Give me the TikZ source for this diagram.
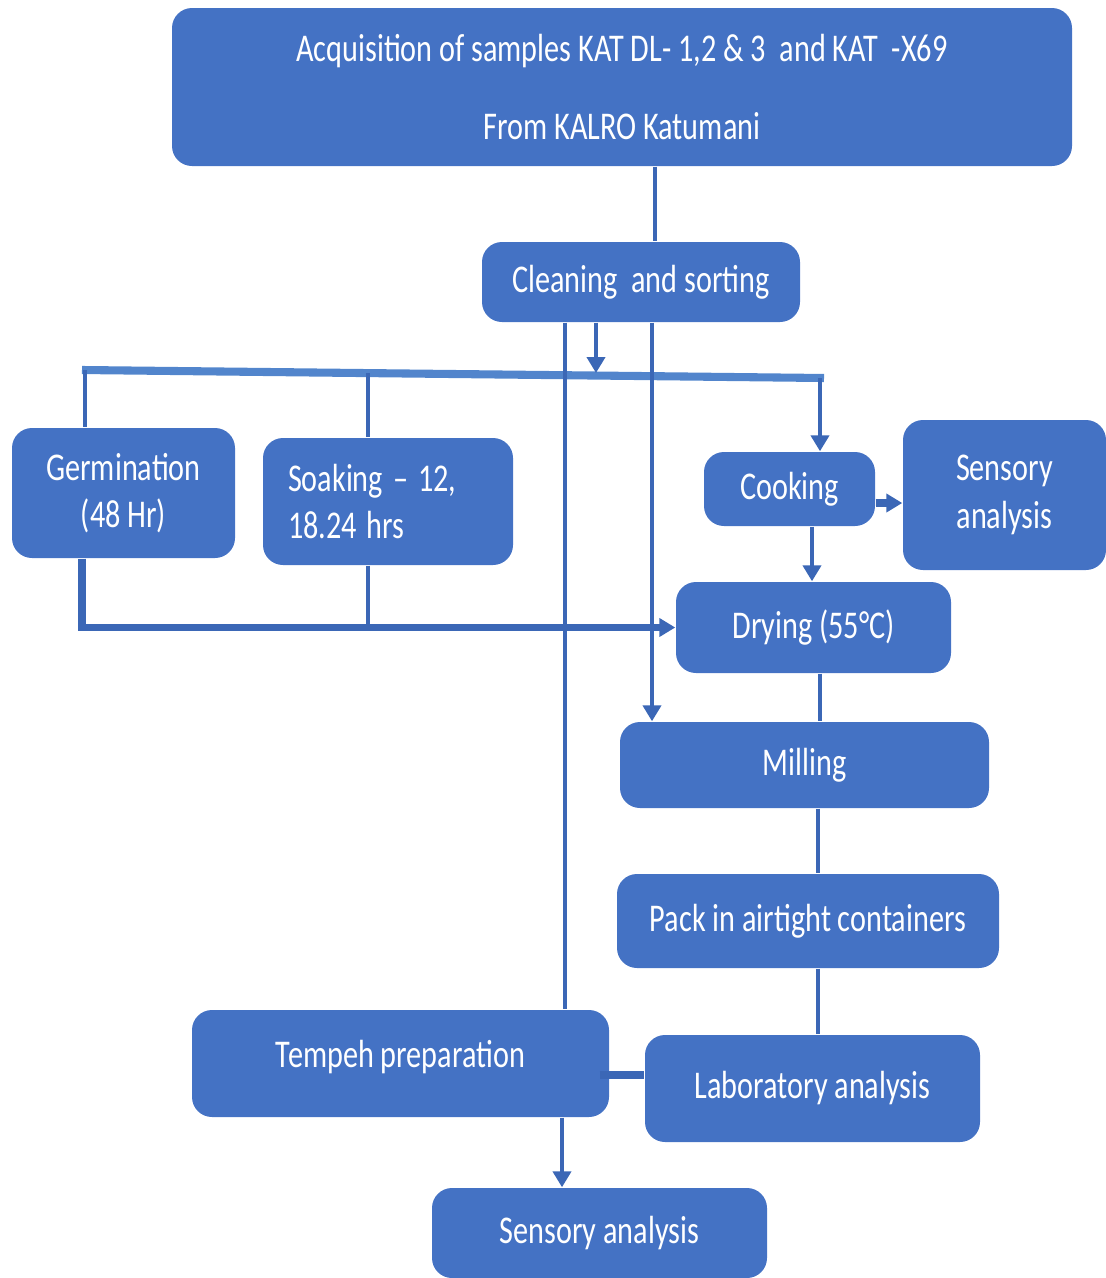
\documentclass[tikz,border=0pt]{standalone}
\usepackage{fontspec}
\setmainfont{Carlito}
\usetikzlibrary{positioning,arrows.meta,calc}
\definecolor{boxblue}{HTML}{4472C4}
\definecolor{lineblue}{HTML}{3B67B6}
\definecolor{busblue}{HTML}{5285CC}
\newcommand{\tl}[1]{\scalebox{1}[1.3]{#1}}
\tikzset{
  stage/.style={fill=boxblue,rounded corners=2mm,text=white,align=center,
    font=\fontsize{8.6}{10.5}\selectfont,inner sep=0pt},
  link/.style={draw=lineblue,line width=1.3pt},
  flow/.style={link,-{Triangle[length=1.6mm,width=1.8mm]}}
}
\begin{document}
\begin{tikzpicture}
  \useasboundingbox (0,0) rectangle (11.06,-12.78);
  \node[stage,minimum width=9cm,minimum height=1.58cm] (acq) at (6.22,-0.87)
    {\tl{Acquisition of samples KAT DL- 1,2 \& 3\ \ and KAT\ \ -X69}\\[11.5pt]\tl{From KALRO Katumani}};
  \node[stage,minimum width=3.18cm,minimum height=0.8cm] (clean) at (6.41,-2.82){\tl{Cleaning\ \ and sorting}};
  \node[stage,minimum width=2.23cm,minimum height=1.3cm] (germ) at (1.235,-4.93){\tl{Germination}\\[3pt]\tl{(48 Hr)}};
  \node[stage,minimum width=2.5cm,minimum height=1.27cm,align=left,text width=2.0cm] (soak) at (3.88,-5.015)
    {\tl{Soaking – 12,}\\[3pt]\tl{18.24 hrs}};
  \node[stage,minimum width=1.71cm,minimum height=0.74cm] (cook) at (7.895,-4.89){\raisebox{-0.6mm}{\tl{Cooking}}};
  \node[stage,minimum width=2.03cm,minimum height=1.5cm] (sens1) at (10.045,-4.95){\tl{Sensory}\\[3pt]\tl{analysis}};
  \node[stage,minimum width=2.75cm,minimum height=0.91cm] (dry) at (8.135,-6.275){\tl{Drying (55°C)}};
  \node[stage,minimum width=3.69cm,minimum height=0.86cm] (mill) at (8.045,-7.65){\tl{Milling}};
  \node[stage,minimum width=3.82cm,minimum height=0.94cm] (pack) at (8.08,-9.21){\tl{Pack in airtight containers}};
  \node[stage,minimum width=4.17cm,minimum height=1.07cm] (temp) at (4.005,-10.635){\raisebox{2mm}{\tl{Tempeh preparation}}};
  \node[stage,minimum width=3.35cm,minimum height=1.07cm] (lab) at (8.125,-10.885){\raisebox{0.6mm}{\tl{Laboratory analysis}}};
  \node[stage,minimum width=3.35cm,minimum height=0.9cm] (sens2) at (5.995,-12.33){\tl{Sensory analysis}};
  % split bar under cleaning
  \coordinate (busL) at (0.82,-3.70);
  \coordinate (busR) at (8.24,-3.78);
  \draw[busblue,line width=2.3pt] (busL) -- (busR);
  \draw[link] (6.55,0 |- acq.south) -- (6.55,0 |- clean.north);
  \draw[flow] (5.96,0 |- clean.south) -- (5.96,-3.73);
  \draw[link] (0.85,-3.70) -- (0.85,0 |- germ.north);
  \draw[link] (3.68,-3.73) -- (3.68,0 |- soak.north);
  \draw[flow] (8.20,-3.78) -- (8.20,0 |- cook.north);
  \draw[link] (5.65,0 |- clean.south) -- (5.65,0 |- temp.north);
  \draw[flow] (6.52,0 |- clean.south) -- (6.52,0 |- mill.north);
  \draw[flow] (8.12,0 |- cook.south) -- (8.12,0 |- dry.north);
  \draw[flow,line width=2pt] ([yshift=-1.4mm]cook.east) -- ([yshift=-1.4mm]cook.east -| sens1.west);
  % soaked and germinated to drying
  \draw[flow,line width=2.2pt] (0.82,0 |- germ.south) |- (dry.west);
  \draw[link] (3.68,0 |- soak.south) -- (3.68,0 |- dry.west);
  \draw[link] (8.20,0 |- dry.south) -- (8.20,0 |- mill.north);
  \draw[link] (8.18,0 |- mill.south) -- (8.18,0 |- pack.north);
  \draw[link] (8.18,0 |- pack.south) -- (8.18,0 |- lab.north);
  \draw[link,line width=2pt] ([xshift=-1mm]temp.east |- 0,-10.75) -- (lab.west |- 0,-10.75);
  \draw[flow] (5.62,0 |- temp.south) -- (5.62,0 |- sens2.north);
\end{tikzpicture}
\end{document}
